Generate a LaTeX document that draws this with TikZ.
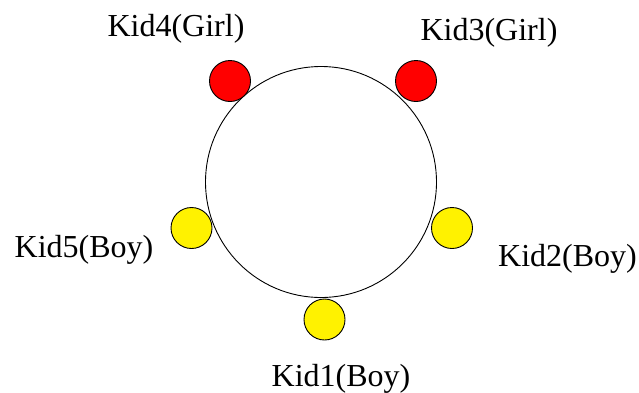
\documentclass[tikz,border=0pt]{standalone}
\usepackage{fontspec}
\setmainfont{Liberation Serif}
\usepackage{tikz}

\begin{document}
\begin{tikzpicture}[x=1pt,y=-1pt,
    kid/.style={shape=circle,draw=black,line width=0.9pt,minimum size=41pt,inner sep=0pt},
    girl/.style={kid,fill=red},
    boy/.style={kid,fill=yellow},
    kidlabel/.style={font=\fontsize{32}{38}\selectfont,inner sep=0pt,anchor=base}]
	\useasboundingbox (0,0) rectangle (639,392);
	\node[shape=circle,draw=black,line width=0.9pt,minimum size=231pt,inner sep=0pt] (ring) at (321,182) {};
	\node[boy]  (kid1) at (324.5,319.5) {};
	\node[boy]  (kid2) at (452,228)     {};
	\node[girl] (kid3) at (416,81)      {};
	\node[girl] (kid4) at (230,81)      {};
	\node[boy]  (kid5) at (191.5,228)   {};
	\node[kidlabel] (lab1) at (341,386)    {Kid1(Boy)};
	\node[kidlabel] (lab2) at (567.5,266)  {Kid2(Boy)};
	\node[kidlabel] (lab3) at (489,40)     {Kid3(Girl)};
	\node[kidlabel] (lab4) at (176,36)     {Kid4(Girl)};
	\node[kidlabel] (lab5) at (84,257)     {Kid5(Boy)};
\end{tikzpicture}
\end{document}
